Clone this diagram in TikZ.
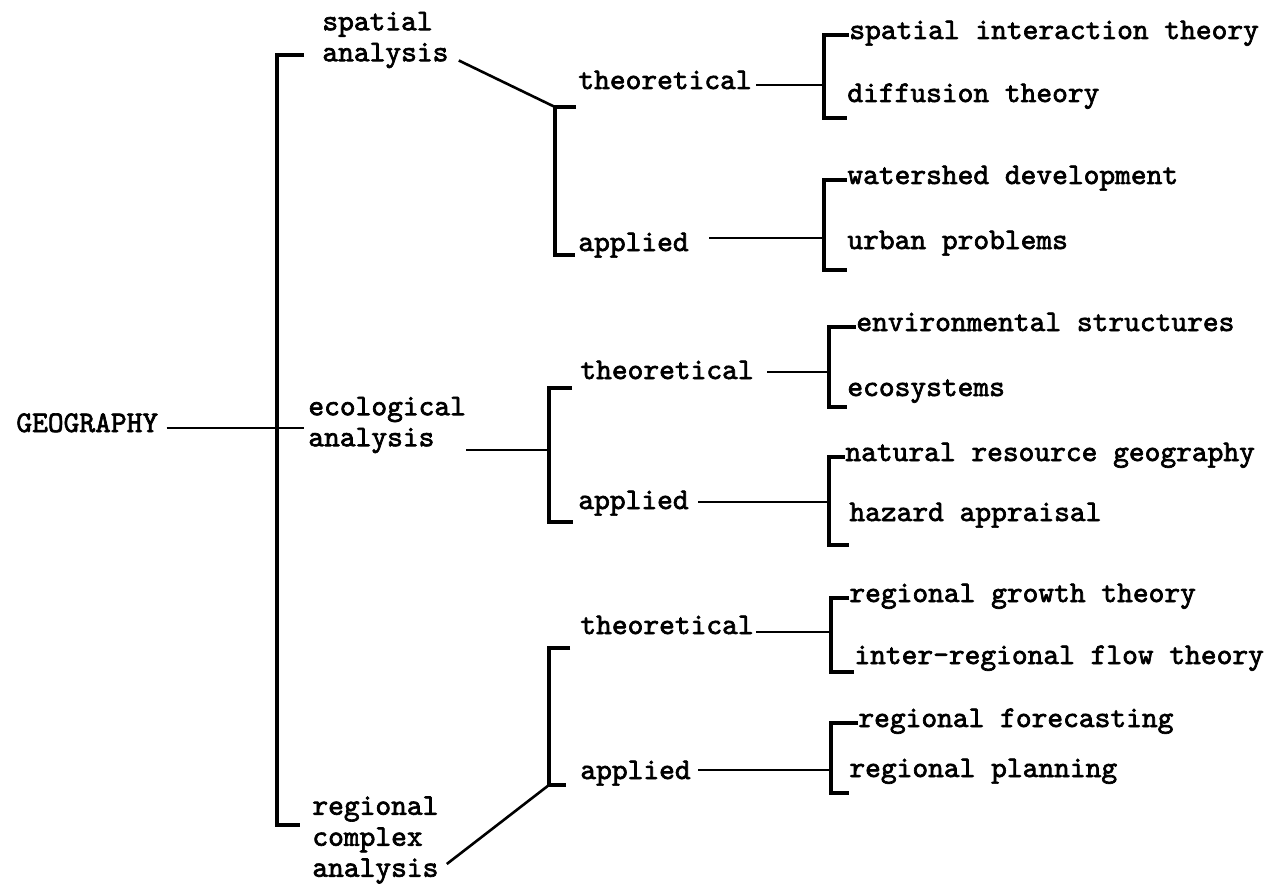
\documentclass[tikz,border=0pt]{standalone}
\usepackage{fontspec}
\usetikzlibrary{calc}

\newfontfamily\typewfont{lmmono10-regular.otf}[FakeBold=2.2]
\newcommand{\tfont}{\fontsize{15}{15.5}\selectfont\typewfont}
\tikzset{
  lbl/.style={anchor=west,inner sep=0pt,font=\tfont,text height=0.62em,text depth=0.22em},
  blk/.style={anchor=west,inner sep=0pt,font=\tfont,align=left},
  brk/.style={line width=1.8pt},
  conn/.style={line width=1.3pt},
}

\begin{document}
\begin{tikzpicture}[x=0.5pt,y=-0.5pt]
  \useasboundingbox (0,0) rectangle (1269,888);
  % first level
  \node[lbl] (geo) at (16,428) {GEOGRAPHY};
  \node[blk] (spa) at (322,40) {spatial\\analysis};
  \node[blk] (eco) at (308,425) {ecological\\analysis};
  \node[blk] (reg) at (312,840) {regional\\complex\\analysis};
  % second level
  \node[lbl] (t1) at (578,85) {theoretical};
  \node[lbl] (a1) at (578,247) {applied};
  \node[lbl] (t2) at (580,375) {theoretical};
  \node[lbl] (a2) at (578,505) {applied};
  \node[lbl] (t3) at (580,630) {theoretical};
  \node[lbl] (a3) at (580,775) {applied};
  % third level
  \node[lbl] (l11) at (849,35) {spatial interaction theory};
  \node[lbl] (l12) at (847,98) {diffusion theory};
  \node[lbl] (l21) at (847,180) {watershed development};
  \node[lbl] (l22) at (847,245) {urban problems};
  \node[lbl] (l31) at (856,327) {environmental structures};
  \node[lbl] (l32) at (847,392) {ecosystems};
  \node[lbl] (l41) at (845,457) {natural resource geography};
  \node[lbl] (l42) at (849,517) {hazard appraisal};
  \node[lbl] (l51) at (849,598) {regional growth theory};
  \node[lbl] (l52) at (854,660) {inter-regional flow theory};
  \node[lbl] (l61) at (858,723) {regional forecasting};
  \node[lbl] (l62) at (849,773) {regional planning};

  % main bracket
  \coordinate (m1) at (277,55);
  \coordinate (m2) at (277,825);
  \draw[brk] ($(m1)+(27,0)$) -- (m1) -- (m2) -- ++(23,0);
  \draw[conn] ($(geo.east)+(8,0)$) -- ($(geo.east -| eco.west)+(-4,0)$);

  % second level brackets
  \coordinate (s1t) at (555,107);
  \coordinate (s1b) at (555,255);
  \draw[brk] ($(t1.west |- s1t)+(-2,0)$) -- (s1t) -- (s1b) -- ($(a1.west |- s1b)+(-3,0)$);
  \draw[conn] ($(spa.south east)+(10,-8)$) -- (s1t);

  \coordinate (s2t) at (549,388);
  \coordinate (s2b) at (549,522);
  \coordinate (s2m) at (549,450);
  \draw[brk] ($(t2.west |- s2t)+(-8,0)$) -- (s2t) -- (s2b) -- ($(a2.west |- s2b)+(-5,0)$);
  \draw[conn] (eco.east |- s2m) -- (s2m);

  \coordinate (s3t) at (549,648);
  \coordinate (s3b) at (549,785);
  \draw[brk] ($(t3.west |- s3t)+(-10,0)$) -- (s3t) -- (s3b) -- ($(a3.west |- s3b)+(-14,0)$);
  \draw[conn] ($(reg.south east)+(8,-20)$) -- (s3b);

  % third level brackets
  \coordinate (k1) at (824,118);
  \coordinate (j1) at (824,85);
  \draw[brk] (l11.west) -| (k1) -- (l12.west |- k1);
  \draw[conn] ($(t1.east |- j1)+(4,0)$) -- (j1);

  \coordinate (k2) at (824,270);
  \coordinate (j2) at (824,238);
  \draw[brk] (l21.west) -| (k2) -- (l22.west |- k2);
  \draw[conn] ($(a1.east |- j2)+(20,0)$) -- (j2);

  \coordinate (k3) at (829,407);
  \coordinate (j3) at (829,372);
  \draw[brk] (l31.west) -| (k3) -- (l32.west |- k3);
  \draw[conn] ($(t2.east |- j3)+(13,0)$) -- (j3);

  \coordinate (k4) at (829,545);
  \coordinate (j4) at (829,502);
  \draw[brk] (l41.west) -| (k4) -- (l42.west |- k4);
  \draw[conn] ($(a2.east |- j4)+(9,0)$) -- (j4);

  \coordinate (k5) at (831,672);
  \coordinate (j5) at (831,632);
  \draw[brk] (l51.west) -| (k5) -- (l52.west |- k5);
  \draw[conn] ($(t3.east |- j5)+(2,0)$) -- (j5);

  \coordinate (k6) at (831,793);
  \coordinate (j6) at (831,770);
  \draw[brk] (l61.west) -| (k6) -- (l62.west |- k6);
  \draw[conn] ($(a3.east |- j6)+(7,0)$) -- (j6);
\end{tikzpicture}
\end{document}
